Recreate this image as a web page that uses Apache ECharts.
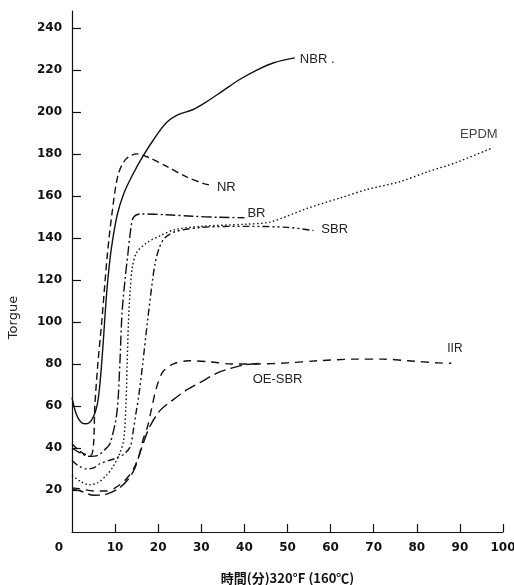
<!DOCTYPE html>
<html>
<head>
<meta charset="utf-8">
<script src="https://cdn.jsdelivr.net/npm/echarts@6/dist/echarts.min.js"></script>
<style>html,body{margin:0;padding:0;background:#fff;}#chart{width:514px;height:585px;}</style>
</head>
<body>
<div id="chart"></div>
<script>
// x: time (min), y: torque
const NBR = [[0,64],[1,56],[2,52.5],[3,51.5],[4,52],[5,55],[5.8,60],[6.3,67],[6.8,78],[7.3,92],[7.9,110],[8.5,124],[9.2,136],[10.5,151],[12,161],[13.8,169],[16.5,179],[19.5,188.5],[22,195],[24.5,198.5],[28,201],[31,204.5],[35,210],[39,215.5],[43,220],[47,223.5],[51.7,225.7]];
const NR = [[0,42],[1.5,39],[3,37],[4.4,36.5],[5.0,42],[5.3,60],[6.0,80],[6.9,100],[7.5,115],[8.2,132],[9.3,152],[10.7,170],[12.5,177.5],[15,180],[17.5,178.5],[22,174],[26.6,169],[30.8,165.7],[32.7,165]];
const BR = [[0,40],[2,37.5],[4,36],[6,36.5],[7.5,39],[8.8,42],[10.4,56.6],[11.1,80],[11.6,104],[12.3,120],[13,133],[13.5,142],[14.2,149.5],[15.8,151.4],[22,151],[28,150.3],[34,149.8],[40,149.6]];
const SBR = [[0,34],[1.5,31.5],[3.5,30],[5,30.5],[6.5,32.5],[8.5,34],[10,35],[12,37],[13.5,40.5],[14.2,48],[14.8,56],[15.5,65],[16.4,80],[17.5,100],[18.7,120],[19.3,128],[20.2,135],[21.5,140],[24,143],[30,145],[40,145.5],[50,145],[56,143.5]];
const EPDM = [[0,27],[2,24],[4,22.5],[6,23.5],[8,27],[9.5,31],[11,37],[12,44],[12.5,60],[12.8,80],[13.1,100],[13.5,115],[14,126],[15,133],[17.3,137.6],[20.4,141],[24,144],[30,145.5],[40,146.5],[46,147.6],[54.5,154],[62.2,159],[68.4,163],[76,166.7],[82.4,171.4],[89.3,176],[97.7,183]];
const IIR = [[0,21],[2,20.5],[5,19.5],[8,19.5],[10,21],[12,24],[14,29],[15.5,36],[16.5,44],[17.5,50],[18.5,59],[19.5,68],[21,76],[23.5,80],[27,81.5],[32,81],[37,80],[43,80],[50,80.5],[57,81.5],[66,82.3],[72,82.3],[78,81.5],[85,80.5],[88,80.3]];
const OESBR = [[0,20.5],[2,19.5],[5,17.5],[8,18],[11,21],[13,25],[14.5,30],[15.5,36],[16.5,42],[18,50],[20.5,58],[23.5,63],[26.5,67.5],[30,71.5],[33.5,75.5],[37,78],[40,79.5],[44,80.3]];

const names = ['NBR .','NR','BR','SBR','EPDM','IIR','OE-SBR'];
const xTicks = [10,20,30,40,50,60,70,80,90,100];
const xLabels = [0,10,20,30,40,50,60,70,80,90,100];
const yTicks = [20,40,60,80,100,120,140,160,180,200,220,240];

const chart = echarts.init(document.getElementById('chart'), null, {renderer:'canvas'});
const lblFont = {fontFamily:'Liberation Sans, Arial, sans-serif', fontSize:13, color:'#222'};
function mk(name, data, dash, lbl){
  return {
    type:'line', name:name, data:data, showSymbol:false, smooth:0.3,
    lineStyle:{color:'#111', width:1.4, type:dash},
    endLabel:Object.assign({show:true, formatter:name, distance:5}, lblFont, lbl||{}),
    emphasis:{disabled:true}, z:2
  };
}
chart.setOption({
  backgroundColor:'#fff',
  animation:false,
  grid:{left:72, right:11, top:11, bottom:53, containLabel:false, outerBoundsMode:'none'},
  xAxis:{
    type:'value', min:0, max:100, interval:10,
    name:'時間(分)320°F (160℃)', nameLocation:'middle', nameGap:40,
    nameTextStyle:{fontFamily:'Noto Sans CJK JP, DejaVu Sans, sans-serif', fontSize:13, fontWeight:'bold', color:'#111'},
    axisLine:{lineStyle:{color:'#111', width:1.2}},
    axisTick:{inside:true, length:8, lineStyle:{color:'#111', width:1.2}, customValues:xTicks},
    axisLabel:{
      customValues:xLabels, margin:10, color:'#111',
      fontFamily:'DejaVu Sans, sans-serif', fontSize:12, fontWeight:'bold',
      formatter:function(v){ return v===0 ? '{z|0}' : String(v); },
      rich:{z:{fontFamily:'DejaVu Sans, sans-serif', fontSize:12, fontWeight:'bold', color:'#111', padding:[0,26,0,0]}}
    },
    splitLine:{show:false}
  },
  yAxis:{
    type:'value', min:0, max:248, interval:20,
    name:'Torgue', nameLocation:'middle', nameGap:52,
    nameTextStyle:{fontFamily:'DejaVu Sans, sans-serif', fontSize:13, color:'#222', padding:[0,92,0,0]},
    axisLine:{lineStyle:{color:'#111', width:1.2}},
    axisTick:{inside:true, length:9, lineStyle:{color:'#111', width:1.2}, customValues:yTicks},
    axisLabel:{customValues:yTicks, margin:10, color:'#111', fontFamily:'DejaVu Sans, sans-serif', fontSize:12, fontWeight:'bold'},
    splitLine:{show:false}
  },
  series:[
    mk(names[0], NBR, 'solid', {offset:[0,2]}),
    mk(names[1], NR, [7,4], {offset:[0,2], distance:4}),
    mk(names[2], BR, [10,3,2,3], {distance:3, offset:[0,-4]}),
    mk(names[3], SBR, [7,3,2,3,2,3], {distance:8, offset:[0,-1]}),
    mk(names[4], EPDM, [1.5,2.5], {offset:[-38,-13], color:'#444', fontSize:13}),
    mk(names[5], IIR, [8,6], {offset:[-9,-15], fontSize:12}),
    mk(names[6], OESBR, [12,5], {offset:[-14,16]})
  ]
});
</script>
</body>
</html>
